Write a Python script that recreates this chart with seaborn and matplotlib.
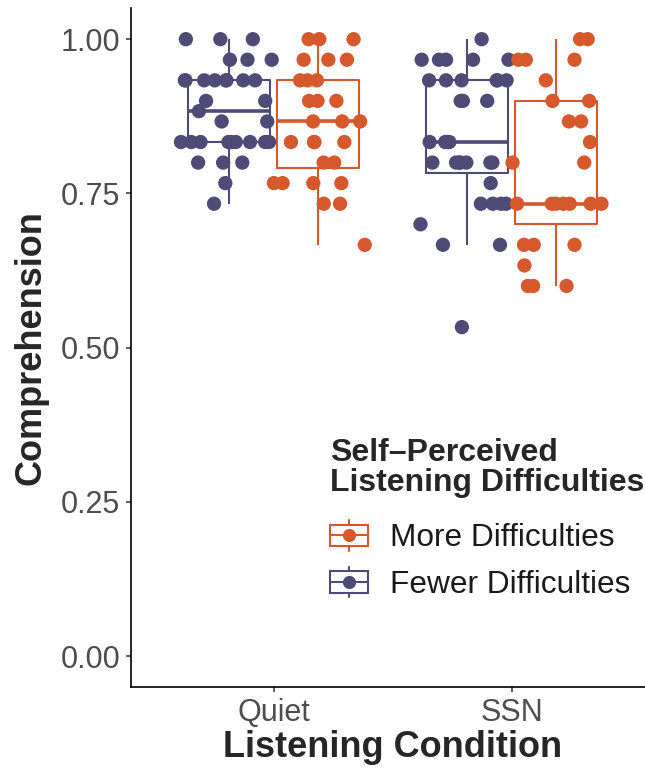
import numpy as np
import pandas as pd
import matplotlib
matplotlib.use("Agg")
import matplotlib.pyplot as plt
import seaborn as sns
from matplotlib.lines import Line2D
from matplotlib.patches import Rectangle
from matplotlib.legend_handler import HandlerBase

# ---------------- data ----------------
conditions = ["Quiet", "SSN"]
groups = ["Fewer Difficulties", "More Difficulties"]

quiet_fewer = [1.0, 1.0, 1.0, 0.9667, 0.9667, 0.9667,
               0.9333, 0.9333, 0.9333, 0.9333, 0.9333, 0.9333, 0.9333, 0.9333,
               0.9, 0.9, 0.8833, 0.8667, 0.8667,
               0.8333, 0.8333, 0.8333, 0.8333, 0.8333, 0.8333, 0.8333, 0.8333, 0.8333,
               0.8, 0.8, 0.8, 0.7667, 0.7333]
quiet_more = [1.0, 1.0, 1.0, 0.9667, 0.9667, 0.9667,
              0.9333, 0.9333, 0.9333, 0.9, 0.9, 0.9,
              0.8667, 0.8667, 0.8667, 0.8333, 0.8333, 0.8333, 0.8333,
              0.8, 0.8, 0.7667, 0.7667, 0.7667, 0.7667,
              0.7333, 0.7333, 0.6667]
ssn_fewer = [1.0, 0.9667, 0.9667, 0.9667, 0.9667, 0.9667,
             0.9333, 0.9333, 0.9333, 0.9333, 0.9333, 0.9333,
             0.9, 0.9, 0.9, 0.8333, 0.8333, 0.8333, 0.8333,
             0.8, 0.8, 0.8, 0.8, 0.8, 0.8, 0.8,
             0.7667, 0.7333, 0.7333, 0.7333, 0.7333,
             0.7, 0.6667, 0.6667, 0.5333]
ssn_more = [1.0, 1.0, 0.9667, 0.9667, 0.9667, 0.9333, 0.9, 0.9,
            0.8667, 0.8667, 0.8333, 0.8, 0.8,
            0.7333, 0.7333, 0.7333, 0.7333, 0.7333, 0.7333, 0.7333,
            0.6667, 0.6667, 0.6667, 0.6333, 0.6, 0.6, 0.6]

y_ticks = [0.0, 0.25, 0.50, 0.75, 1.00]
y_tick_labels = ["0.00", "0.25", "0.50", "0.75", "1.00"]

colors = {"Fewer Difficulties": "#4E4B77", "More Difficulties": "#D6592D"}

rows = []
for cond, grp, vals in [("Quiet", "Fewer Difficulties", quiet_fewer),
                        ("Quiet", "More Difficulties", quiet_more),
                        ("SSN", "Fewer Difficulties", ssn_fewer),
                        ("SSN", "More Difficulties", ssn_more)]:
    for v in vals:
        rows.append({"Listening Condition": cond, "Group": grp, "Comprehension": v})
df = pd.DataFrame(rows)

# ---------------- style ----------------
sns.set_style("ticks")
plt.rcParams["font.family"] = ["Liberation Sans", "DejaVu Sans"]

fig = plt.figure(figsize=(6.45, 7.72), dpi=100)
ax = fig.add_axes([131 / 645, 85 / 772, 0.8118, 0.8791])

sns.boxplot(data=df, x="Listening Condition", y="Comprehension", hue="Group",
            order=conditions, hue_order=groups, palette=colors, fill=False,
            width=0.75, gap=0.08, showfliers=False, showcaps=False,
            linewidth=1.5, medianprops=dict(linewidth=2.6), legend=False, ax=ax)

np.random.seed(7)
sns.stripplot(data=df, x="Listening Condition", y="Comprehension", hue="Group",
              order=conditions, hue_order=groups, palette=colors, dodge=True,
              jitter=0.4, size=10.3, linewidth=0, legend=False, zorder=3, ax=ax)

ax.set_xlim(-0.6, 1.6)
ax.set_ylim(-0.05, 1.05)
ax.set_yticks(y_ticks)
ax.set_yticklabels(y_tick_labels)
ax.set_xlabel("Listening Condition", fontsize=26, fontweight="bold", labelpad=2)
ax.set_ylabel("Comprehension", fontsize=26, fontweight="bold", labelpad=9)
ax.tick_params(axis="both", labelsize=22, labelcolor="#4D4D4D", color="#333333",
               length=3.6, width=1.1, pad=4)
for side in ["top", "right"]:
    ax.spines[side].set_visible(False)
for side in ["left", "bottom"]:
    ax.spines[side].set_color("black")
    ax.spines[side].set_linewidth(1.2)


# ---------------- legend ----------------
class BoxKeyHandler(HandlerBase):
    def create_artists(self, legend, orig_handle, xdescent, ydescent,
                       width, height, fontsize, trans):
        c = orig_handle.get_color()
        x0, y0 = -xdescent, -ydescent
        cx, cy = x0 + width / 2, y0 + height / 2
        bh = height * 0.70
        rect = Rectangle((x0, cy - bh / 2), width, bh, fill=False,
                         edgecolor=c, linewidth=1.5)
        med = Line2D([x0, x0 + width], [cy, cy], color=c, linewidth=1.5)
        w1 = Line2D([cx, cx], [cy + bh / 2, y0 + height], color=c, linewidth=1.5)
        w2 = Line2D([cx, cx], [y0, cy - bh / 2], color=c, linewidth=1.5)
        dot = Line2D([cx], [cy], marker="o", markersize=9.5, color=c,
                     linestyle="none", markeredgewidth=0)
        arts = [rect, med, w1, w2, dot]
        for a in arts:
            a.set_transform(trans)
        return arts


legend_order = ["More Difficulties", "Fewer Difficulties"]
handles = [Line2D([], [], color=colors[g]) for g in legend_order]
leg = ax.legend(handles, legend_order,
                title="Self\u2013Perceived\nListening Difficulties",
                handler_map={Line2D: BoxKeyHandler()},
                loc="upper left", bbox_to_anchor=(330 / 645, 1 - 438 / 772),
                bbox_transform=fig.transFigure, frameon=False, borderpad=0,
                borderaxespad=0,
                fontsize=22.8, title_fontproperties={"weight": "bold", "size": 23},
                handlelength=1.2, handleheight=1.1, handletextpad=0.7,
                labelspacing=0.43, alignment="left")
leg.get_title().set_linespacing(1.0)
leg._legend_box.sep = 16
for t in leg.get_texts():
    t.set_color("#1A1A1A")

fig.savefig("out.png", dpi=100)
